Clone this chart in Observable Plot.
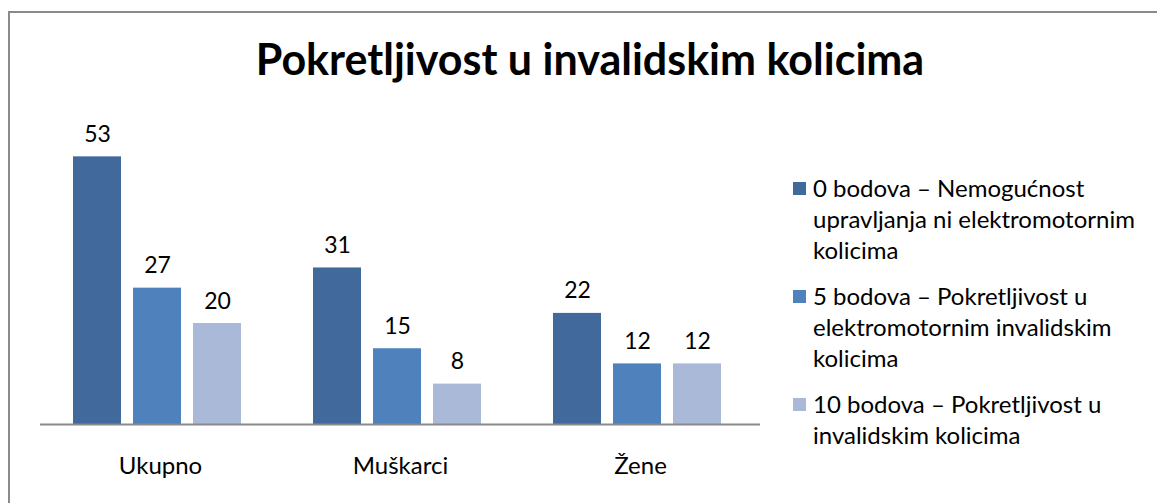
<!DOCTYPE html>
<html>
<head>
<meta charset="utf-8">
<script src="https://cdn.jsdelivr.net/npm/d3@7"></script>
<script src="https://cdn.jsdelivr.net/npm/@observablehq/plot@0.6"></script>
<style>
  html, body { margin: 0; padding: 0; background: #fff; overflow: hidden; }
  body { width: 1157px; height: 503px; position: relative; font-family: Lato, "Open Sans", sans-serif; }
  #frame { position: absolute; left: 8px; top: 11px; width: 1200px; height: 600px; border: 2px solid #8a8a8a; box-sizing: border-box; }
  #title { position: absolute; left: 0; width: 1180px; top: 33px; text-align: center; font-size: 43px; font-weight: bold; color: #000; line-height: 52px; white-space: nowrap; }
  #chart { position: absolute; left: 0; top: 0; }
  #legend { position: absolute; left: 793px; top: 172px; font-size: 24px; line-height: 31px; color: #000; }
  .item { position: relative; padding-left: 20px; margin-bottom: 15px; white-space: nowrap; }
  .sw { position: absolute; left: 0; top: 10px; width: 13px; height: 13px; }
</style>
</head>
<body>
<div id="frame"></div>
<div id="chart"></div>
<div id="title"></div>
<div id="legend"></div>
<script>
const title = "Pokretljivost u invalidskim kolicima";
const categories = ["Ukupno", "Muškarci", "Žene"];
const series = [
  "0 bodova – Nemogućnost upravljanja ni elektromotornim kolicima",
  "5 bodova – Pokretljivost u elektromotornim invalidskim kolicima",
  "10 bodova – Pokretljivost u invalidskim kolicima"
];
const legendLines = [
  ["0 bodova – Nemogućnost", "upravljanja ni elektromotornim", "kolicima"],
  ["5 bodova – Pokretljivost u", "elektromotornim invalidskim", "kolicima"],
  ["10 bodova – Pokretljivost u", "invalidskim kolicima"]
];
const values0 = [53, 31, 22];
const values5 = [27, 15, 12];
const values10 = [20, 8, 12];
const colors = ["#41699B", "#4F81BD", "#AAB9D8"];

const seriesValues = [values0, values5, values10];
const data = [];
categories.forEach((c, i) => {
  series.forEach((s, j) => data.push({cat: c, series: s, value: seriesValues[j][i]}));
});

document.getElementById("title").textContent = title;

const chart = Plot.plot({
  width: 1157,
  height: 503,
  marginLeft: 40,
  marginRight: 397,
  marginTop: 121,
  marginBottom: 79,
  style: {fontSize: "24px", fontFamily: "Lato, 'Open Sans', sans-serif", color: "#000", background: "transparent", overflow: "visible"},
  facet: {data, x: "cat"},
  fx: {domain: categories, padding: 0, label: null, tickSize: 0, tickPadding: 32},
  x: {domain: series, paddingInner: 0.2, paddingOuter: 0.6, align: 0.458, axis: null},
  y: {domain: [0, 60], axis: null},
  color: {domain: series, range: colors},
  marks: [
    Plot.barY(data, {x: "series", y: "value", fill: "series"}),
    Plot.ruleY([0], {stroke: "#8a8a8a", strokeWidth: 2}),
    Plot.text(data, {x: "series", y: "value", text: d => String(d.value), lineAnchor: "bottom", dy: -15, fill: "#000", fontSize: 23})
  ]
});
document.getElementById("chart").appendChild(chart);

const legend = document.getElementById("legend");
legendLines.forEach((lines, i) => {
  const item = document.createElement("div");
  item.className = "item";
  const sw = document.createElement("span");
  sw.className = "sw";
  sw.style.background = colors[i];
  item.appendChild(sw);
  lines.forEach((l, k) => {
    if (k) item.appendChild(document.createElement("br"));
    item.appendChild(document.createTextNode(l));
  });
  legend.appendChild(item);
});
</script>
</body>
</html>
